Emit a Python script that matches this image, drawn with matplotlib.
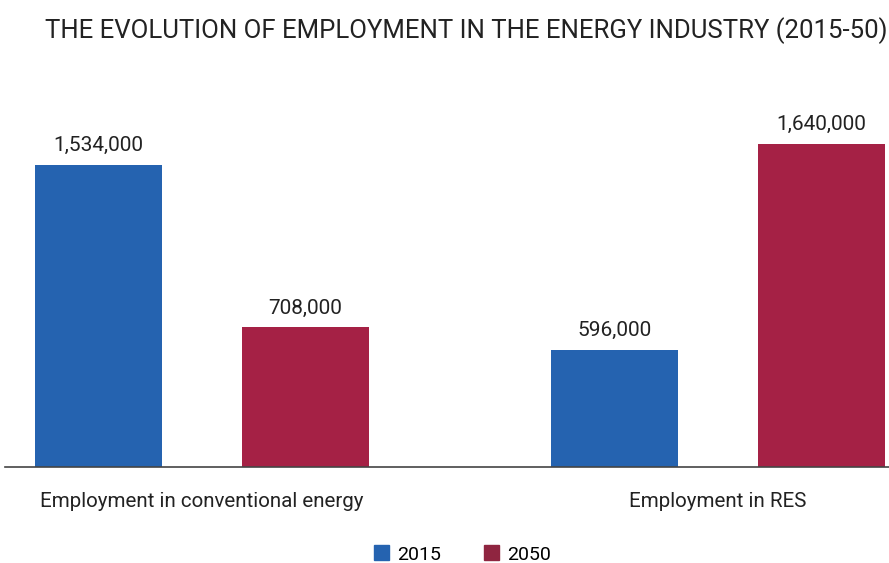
import numpy as np
import matplotlib
matplotlib.use('Agg')
import matplotlib.pyplot as plt
from matplotlib.patches import Patch

plt.rcParams['font.family'] = ['Liberation Sans Narrow', 'Roboto', 'DejaVu Sans']

# datos
categories = ['Employment in conventional energy', 'Employment in RES']
series = ['2015', '2050']
values_2015 = [1534000, 596000]
values_2050 = [708000, 1640000]
colors = ['#2563b0', '#a52145']

fig = plt.figure(figsize=(8.89, 5.63), dpi=100)
ax = fig.add_axes([5/889, 1 - 467/563, 884/889, 407/563])

x = np.arange(len(categories))
w = 0.246
off = 0.2006
b1 = ax.bar(x - off, values_2015, w, color=colors[0])
b2 = ax.bar(x + off, values_2050, w, color=colors[1])

for bars in (b1, b2):
    for b in bars:
        h = b.get_height()
        ax.annotate(f'{h:,.0f}', (b.get_x() + b.get_width() / 2, h),
                    xytext=(0, 7), textcoords='offset points',
                    ha='center', va='bottom', fontsize=15, color='#222222')

ax.set_xlim(-0.382, 1.331)
ax.set_ylim(0, 2065000)
for s in ['top', 'right', 'left']:
    ax.spines[s].set_visible(False)
ax.spines['bottom'].set_color('#444444')
ax.spines['bottom'].set_linewidth(1.2)
ax.set_yticks([])
ax.set_xticks(x)
ax.set_xticklabels(categories, fontsize=14.8, color='#222222')
ax.tick_params(axis='x', length=0, pad=18)

fig.text(0.525, 0.945, 'THE EVOLUTION OF EMPLOYMENT IN THE ENERGY INDUSTRY (2015-50)',
         ha='center', va='center', fontsize=18.5, color='#222222')

handles = [Patch(color=colors[0], label=series[0]), Patch(color='#8f2540', label=series[1])]
fig.legend(handles=handles, loc='center', bbox_to_anchor=(0.52, 0.015), ncol=2,
           frameon=False, fontsize=14, handlelength=0.8, handleheight=0.8,
           columnspacing=2.2, handletextpad=0.4)

fig.savefig('out.png', dpi=100)
